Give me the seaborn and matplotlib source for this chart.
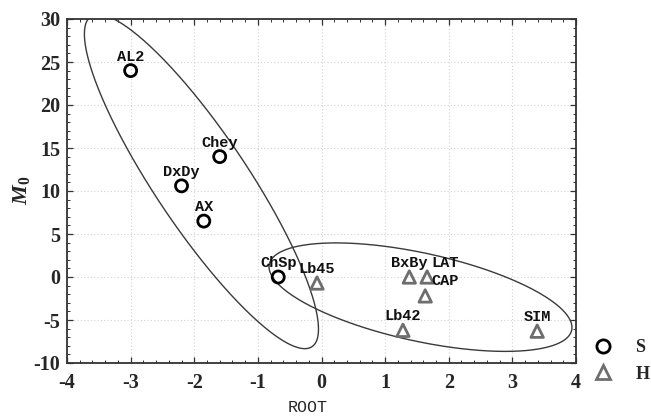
import numpy as np
import matplotlib
matplotlib.use("Agg")
import matplotlib.pyplot as plt
from matplotlib.lines import Line2D
from matplotlib.ticker import MultipleLocator
import seaborn as sns
import pandas as pd

# ---- data ----
names  = ["AL2", "Chey", "DxDy", "AX", "ChSp", "Lb45", "BxBy", "LAT", "CAP", "Lb42", "SIM"]
root   = [-3.0, -1.6, -2.2, -1.85, -0.68, -0.07, 1.38, 1.66, 1.63, 1.28, 3.39]
m0     = [24.0, 14.0, 10.6, 6.5, 0.0, -0.7, 0.0, 0.0, -2.2, -6.2, -6.3]
groups = ["S", "S", "S", "S", "S", "H", "H", "H", "H", "H", "H"]

# group ellipses: centre and two conjugate semi-diameters (data units)
ell_S = dict(center=(-1.887, 11.1), u=(-1.738, 19.2), v=(-0.603, -3.01))
ell_H = dict(center=(1.556, -2.343), u=(-2.376, 3.842), v=(-0.148, -5.002))

x_ticks = [-4, -3, -2, -1, 0, 1, 2, 3, 4]
y_ticks = [-10, -5, 0, 5, 10, 15, 20, 25, 30]

df = pd.DataFrame({"ROOT": root, "M0": m0, "group": groups, "name": names})

# ---- style ----
sns.set_style("white")
plt.rcParams["font.family"] = ["Liberation Serif", "DejaVu Serif"]
plt.rcParams["mathtext.fontset"] = "custom"
plt.rcParams["mathtext.it"] = "Liberation Serif:bold:italic"
plt.rcParams["mathtext.rm"] = "Liberation Serif:bold"
plt.rcParams["mathtext.bf"] = "Liberation Serif:bold"

fig = plt.figure(figsize=(6.51, 4.17), dpi=100)
ax = fig.add_axes([67/651, 1-363/417, (576-67)/651, (363-19)/417])

palette = {"S": "black", "H": "#6e6e6e"}
markers = {"S": "o", "H": "^"}

t = np.linspace(0, 2*np.pi, 400)
for e in (ell_S, ell_H):
    c = np.array(e["center"]); u = np.array(e["u"]); v = np.array(e["v"])
    xy = c[None, :] + np.outer(np.cos(t), u) + np.outer(np.sin(t), v)
    ax.plot(xy[:, 0], xy[:, 1], color="#3a3a3a", lw=1.0, zorder=2)

for g, s in (("S", 75), ("H", 80)):
    sub = df[df.group == g]
    sns.scatterplot(data=sub, x="ROOT", y="M0", marker=markers[g], s=s,
                    facecolor="none", edgecolor=palette[g], linewidth=2,
                    ax=ax, legend=False, zorder=4)

label_offsets = {"LAT": (18, 14), "CAP": (20, 15)}
for n, x, y in zip(names, root, m0):
    dx, dy = label_offsets.get(n, (0, 14))
    ax.annotate(n, (x, y), xytext=(dx, dy), textcoords="offset pixels",
                ha="center", va="center", fontsize=11,
                family="Liberation Mono", fontweight="bold", color="#111111",
                zorder=5)

ax.set_xlim(-4, 4)
ax.set_ylim(-10, 30)
ax.set_xticks(x_ticks)
ax.set_yticks(y_ticks)
ax.set_xticklabels([str(v) for v in x_ticks])
ax.set_yticklabels([str(v) for v in y_ticks])
ax.xaxis.set_minor_locator(MultipleLocator(0.2))
ax.yaxis.set_minor_locator(MultipleLocator(1))
ax.tick_params(which="both", direction="in", top=True, right=True,
               bottom=True, left=True, color="#333333")
ax.tick_params(which="major", length=4, width=0.9)
ax.tick_params(which="minor", length=2.5, width=0.7)
ax.tick_params(axis="x", which="major", pad=7, labelsize=14.5)
ax.tick_params(axis="y", which="major", pad=5, labelsize=14.5)
for lab in ax.get_xticklabels() + ax.get_yticklabels():
    lab.set_fontweight("bold")
ax.grid(True, which="major", color="#d2d2d2", linestyle=(0, (1, 2)), lw=0.8)
for sp in ax.spines.values():
    sp.set_color("#333333")
    sp.set_linewidth(1.3)

ax.set_xlabel("ROOT", family="Liberation Mono", fontsize=12)
ax.xaxis.set_label_coords((308-67)/(576-67), -(408-363)/(363-19), transform=ax.transAxes)
ax.xaxis.label.set_va("center")
ax.set_ylabel(r"$M_{\mathit{0}}$", fontsize=16)
ax.yaxis.set_label_coords(-(67-22)/(576-67), (363-190)/(363-19), transform=ax.transAxes)
ax.yaxis.label.set_va("center")

handles = [Line2D([], [], ls="none", marker="o", ms=9.5, mfc="none", mec="black", mew=2),
           Line2D([], [], ls="none", marker="^", ms=10, mfc="none", mec="#6e6e6e", mew=2)]
leg = ax.legend(handles, ["S", "H"], loc="center left",
                bbox_to_anchor=(594/651, 1-361/417), bbox_transform=fig.transFigure,
                frameon=False, handlelength=1.0, handletextpad=1.3,
                labelspacing=0.5, borderpad=0, borderaxespad=0,
                prop={"family": "Liberation Serif", "weight": "bold", "size": 13})

fig.savefig("out.png", dpi=100)
